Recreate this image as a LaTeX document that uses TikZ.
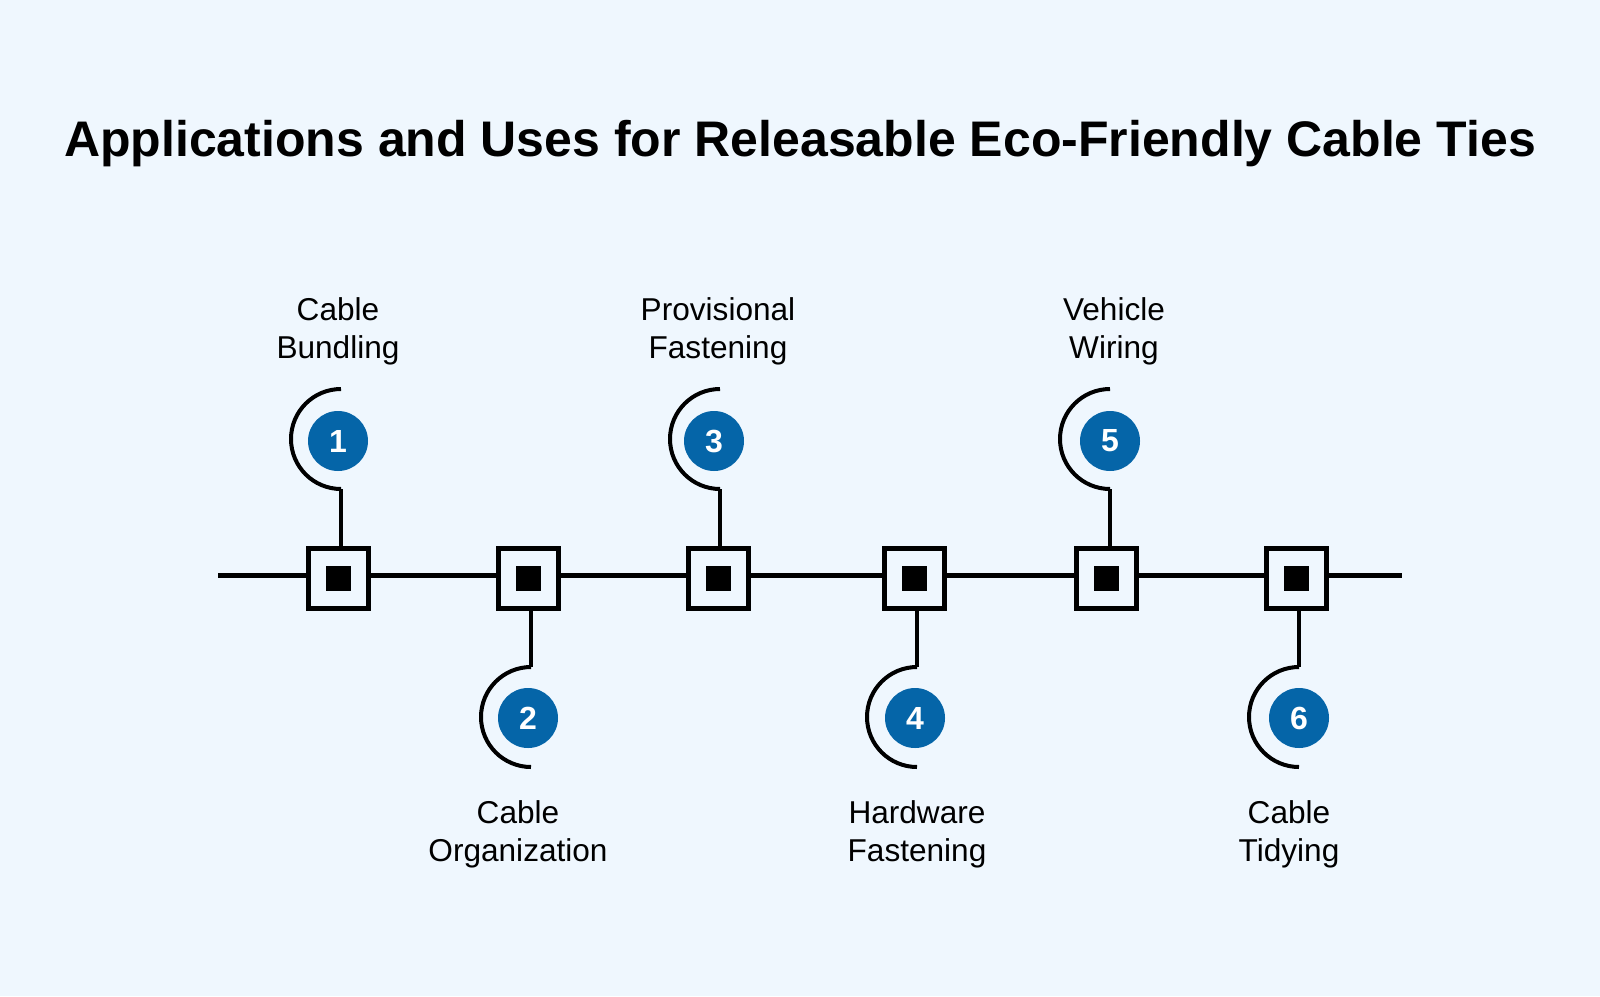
\documentclass[tikz,border=0pt]{standalone}
\usepackage{fontspec}
\setmainfont{Liberation Sans}
\definecolor{bg}{HTML}{EFF7FE}
\definecolor{numblue}{HTML}{0565A8}
\begin{document}
\begin{tikzpicture}[x=0.5pt,y=-0.5pt,
  sqbox/.style={draw=black,line width=2.5pt,fill=bg,minimum size=30pt,inner sep=0pt,outer sep=0pt},
  dotbox/.style={fill=black,minimum size=12.5pt,inner sep=0pt},
  numcirc/.style={circle,fill=numblue,text=white,minimum size=30pt,inner sep=0pt,font=\fontsize{16}{16}\selectfont\bfseries},
  lbl/.style={align=center,font=\fontsize{15.8}{19}\selectfont,text=black},
  axis/.style={line width=2.5pt},
  stem/.style={line width=2pt},
  hook/.style={line width=2pt}]
\fill[bg] (0,0) rectangle (1600,996);
\useasboundingbox (0,0) rectangle (1600,996);
\node[font=\fontsize{25}{30}\selectfont\bfseries] (title) at (800,144) {Applications and Uses for Releasable Eco-Friendly Cable Ties};
\coordinate (L) at (218,575);
\coordinate (R) at (1402,575);
% squares
\foreach \i/\x in {1/338.5,2/528.5,3/718,4/914,5/1106,6/1296.5}{
  \node[sqbox] (s\i) at (\x,578) {};
}
\draw[axis] (L) -- (L -| s1.west);
\draw[axis] (s1.east |- L) -- (s2.west |- L);
\draw[axis] (s2.east |- L) -- (s3.west |- L);
\draw[axis] (s3.east |- L) -- (s4.west |- L);
\draw[axis] (s4.east |- L) -- (s5.west |- L);
\draw[axis] (s5.east |- L) -- (s6.west |- L);
\draw[axis] (s6.east |- L) -- (R);
\foreach \i in {1,...,6}{ \node[dotbox] (d\i) at (s\i) {}; }
% top items
\foreach \i/\sx/\cx in {1/341/338,3/720/714,5/1110/1110}{
  \coordinate (h\i) at (\sx,489);
  \draw[stem] (s\i.north -| h\i) -- (h\i);
  \draw[hook] (\sx,389) arc[start angle=270,end angle=90,radius=50];
  \node[numcirc] (c\i) at (\cx,441) {\i};
}
% bottom items
\foreach \i/\sx/\cx in {2/531/528,4/917/915,6/1299/1299}{
  \coordinate (h\i) at (\sx,667);
  \draw[stem] (s\i.south -| h\i) -- (h\i);
  \draw[hook] (h\i) arc[start angle=270,end angle=90,radius=50];
  \node[numcirc] (c\i) at (\cx,718) {\i};
}
\node[lbl] (t1) at (338,331) {Cable\\Bundling};
\node[lbl] (t3) at (718,331) {Provisional\\Fastening};
\node[lbl] (t5) at (1114,331) {Vehicle\\Wiring};
\node[lbl] (t2) at (518,834) {Cable\\Organization};
\node[lbl] (t4) at (917,834) {Hardware\\Fastening};
\node[lbl] (t6) at (1289,834) {Cable\\Tidying};
\end{tikzpicture}
\end{document}
